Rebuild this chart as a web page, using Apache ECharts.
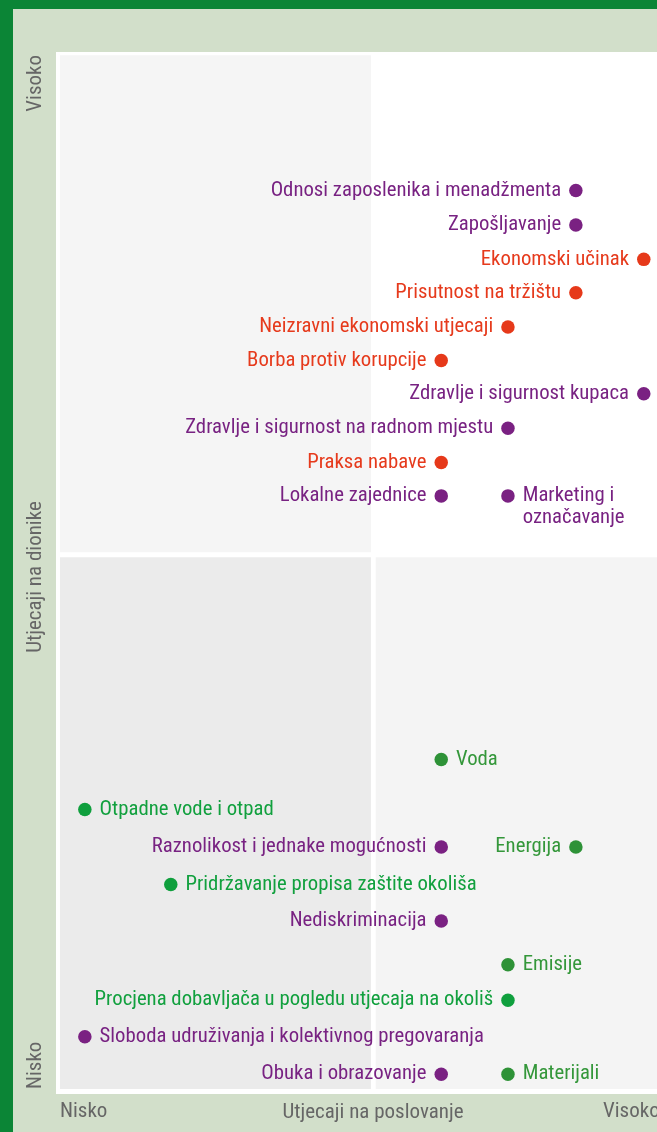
<!DOCTYPE html>
<html>
<head>
<meta charset="utf-8">
<script src="https://cdn.jsdelivr.net/npm/echarts@6/dist/echarts.min.js"></script>
<style>
  html, body { margin: 0; padding: 0; background: #d2dfca; }
  #chart { width: 657px; height: 1132px; }
</style>
</head>
<body>
<div id="chart"></div>
<script>
// Materijalne teme: utjecaj na poslovanje (x) i utjecaj na dionike (y), skala 0–100
const topics = [
  'Odnosi zaposlenika i menadžmenta',
  'Zapošljavanje',
  'Ekonomski učinak',
  'Prisutnost na tržištu',
  'Neizravni ekonomski utjecaji',
  'Borba protiv korupcije',
  'Zdravlje i sigurnost kupaca',
  'Zdravlje i sigurnost na radnom mjestu',
  'Praksa nabave',
  'Lokalne zajednice',
  'Marketing i\noznačavanje',
  'Voda',
  'Otpadne vode i otpad',
  'Raznolikost i jednake mogućnosti',
  'Energija',
  'Pridržavanje propisa zaštite okoliša',
  'Nediskriminacija',
  'Emisije',
  'Procjena dobavljača u pogledu utjecaja na okoliš',
  'Sloboda udruživanja i kolektivnog pregovaranja',
  'Obuka i obrazovanje',
  'Materijali'
];
const businessImpact = [86.5, 86.5, 97.8, 86.5, 75.2, 64.1, 97.8, 75.2, 64.1, 64.1, 75.2,
                        64.1, 4.8, 64.1, 86.5, 19.1, 64.1, 75.2, 75.2, 4.8, 64.1, 75.2];
const stakeholderImpact = [86.7, 83.4, 80.1, 76.9, 73.6, 70.4, 67.2, 63.9, 60.6, 57.4, 57.4,
                           32.1, 27.3, 23.7, 23.7, 20.1, 16.6, 12.4, 9.0, 5.5, 1.9, 1.9];
// društvo, ekonomija, okoliš (resursi), okoliš (usklađenost)
const groups = ['drustvo', 'drustvo', 'ekonomija', 'ekonomija', 'ekonomija', 'ekonomija', 'drustvo',
                'drustvo', 'ekonomija', 'drustvo', 'drustvo',
                'resursi', 'uskladenost', 'drustvo', 'resursi', 'uskladenost', 'drustvo',
                'resursi', 'uskladenost', 'drustvo', 'drustvo', 'resursi'];
const xTickLabels = ['Nisko', 'Utjecaji na poslovanje', 'Visoko'];
const yTickLabels = ['Nisko', 'Utjecaji na dionike', 'Visoko'];

const groupColors = {
  drustvo: { dot: '#7a2182', text: '#782282' },
  ekonomija: { dot: '#e6391a', text: '#e63a1c' },
  resursi: { dot: '#2e9237', text: '#34973a' },
  uskladenost: { dot: '#0f9f3d', text: '#11a03e' }
};
// teme čija oznaka stoji desno od točke
const rightSide = new Set(['Marketing i\noznačavanje', 'Voda', 'Otpadne vode i otpad',
  'Pridržavanje propisa zaštite okoliša', 'Emisije',
  'Sloboda udruživanja i kolektivnog pregovaranja', 'Materijali']);

const FONT = '"Roboto Condensed", "Liberation Sans Narrow", sans-serif';

const points = topics.map((name, i) => {
  const c = groupColors[groups[i]];
  const right = rightSide.has(name);
  const multi = name.indexOf('\n') >= 0;
  return {
    name: name,
    value: [businessImpact[i], stakeholderImpact[i]],
    itemStyle: { color: c.dot, opacity: 1 },
    label: {
      show: true,
      formatter: '{b}',
      position: right ? 'right' : 'left',
      distance: 8,
      color: c.text,
      align: right ? 'left' : 'right',
      lineHeight: 22,
      offset: multi ? [0, 11] : [0, 0]
    }
  };
});

const chart = echarts.init(document.getElementById('chart'), null, { renderer: 'canvas' });

const textStyleAxis = { fill: '#666666', font: '21px ' + FONT };

chart.setOption({
  backgroundColor: '#d2dfca',
  animation: false,
  textStyle: { fontFamily: FONT },
  grid: {
    left: 56, top: 52, right: 0, bottom: 38,
    show: true, backgroundColor: '#ffffff', borderWidth: 0
  },
  xAxis: {
    type: 'value', min: 0, max: 100,
    axisLine: { show: false }, axisTick: { show: false },
    axisLabel: { show: false }, splitLine: { show: false }
  },
  yAxis: {
    type: 'value', min: 0, max: 100,
    axisLine: { show: false }, axisTick: { show: false },
    axisLabel: { show: false }, splitLine: { show: false }
  },
  series: [{
    type: 'scatter',
    symbol: 'circle',
    symbolSize: 13.5,
    z: 5,
    itemStyle: { opacity: 1 },
    label: { fontFamily: FONT, fontSize: 20.75 },
    data: points,
    markArea: {
      silent: true,
      z: 1,
      data: [
        [{ coord: [0.67, 99.7], itemStyle: { color: '#f5f5f5', opacity: 1 } }, { coord: [52.4, 52.0] }],
        [{ coord: [0.67, 51.5], itemStyle: { color: '#ebebeb', opacity: 1 } }, { coord: [52.4, 0.48] }],
        [{ coord: [53.2, 51.5], itemStyle: { color: '#f4f4f4', opacity: 1 } }, { coord: [100, 0.48] }]
      ]
    }
  }],
  graphic: [
    { type: 'rect', left: 0, top: 0, shape: { width: 13, height: 1132 }, style: { fill: '#0b8536' } },
    { type: 'rect', left: 0, top: 0, shape: { width: 657, height: 9 }, style: { fill: '#0b8536' } },
    // oznake vodoravne osi
    { type: 'text', left: 60, top: 1101, style: Object.assign({ text: xTickLabels[0] }, textStyleAxis) },
    { type: 'text', x: 373, y: 1113, style: Object.assign({ text: xTickLabels[1], align: 'center', verticalAlign: 'middle' }, textStyleAxis) },
    { type: 'text', left: 603, top: 1101, style: Object.assign({ text: xTickLabels[2] }, textStyleAxis) },
    // oznake okomite osi
    { type: 'text', x: 36, y: 1089, rotation: Math.PI / 2, style: Object.assign({ text: yTickLabels[0], align: 'left', verticalAlign: 'middle' }, textStyleAxis) },
    { type: 'text', x: 36, y: 577, rotation: Math.PI / 2, style: Object.assign({ text: yTickLabels[1], align: 'center', verticalAlign: 'middle' }, textStyleAxis) },
    { type: 'text', x: 36, y: 55, rotation: Math.PI / 2, style: Object.assign({ text: yTickLabels[2], align: 'right', verticalAlign: 'middle' }, textStyleAxis) }
  ]
});
</script>
</body>
</html>
